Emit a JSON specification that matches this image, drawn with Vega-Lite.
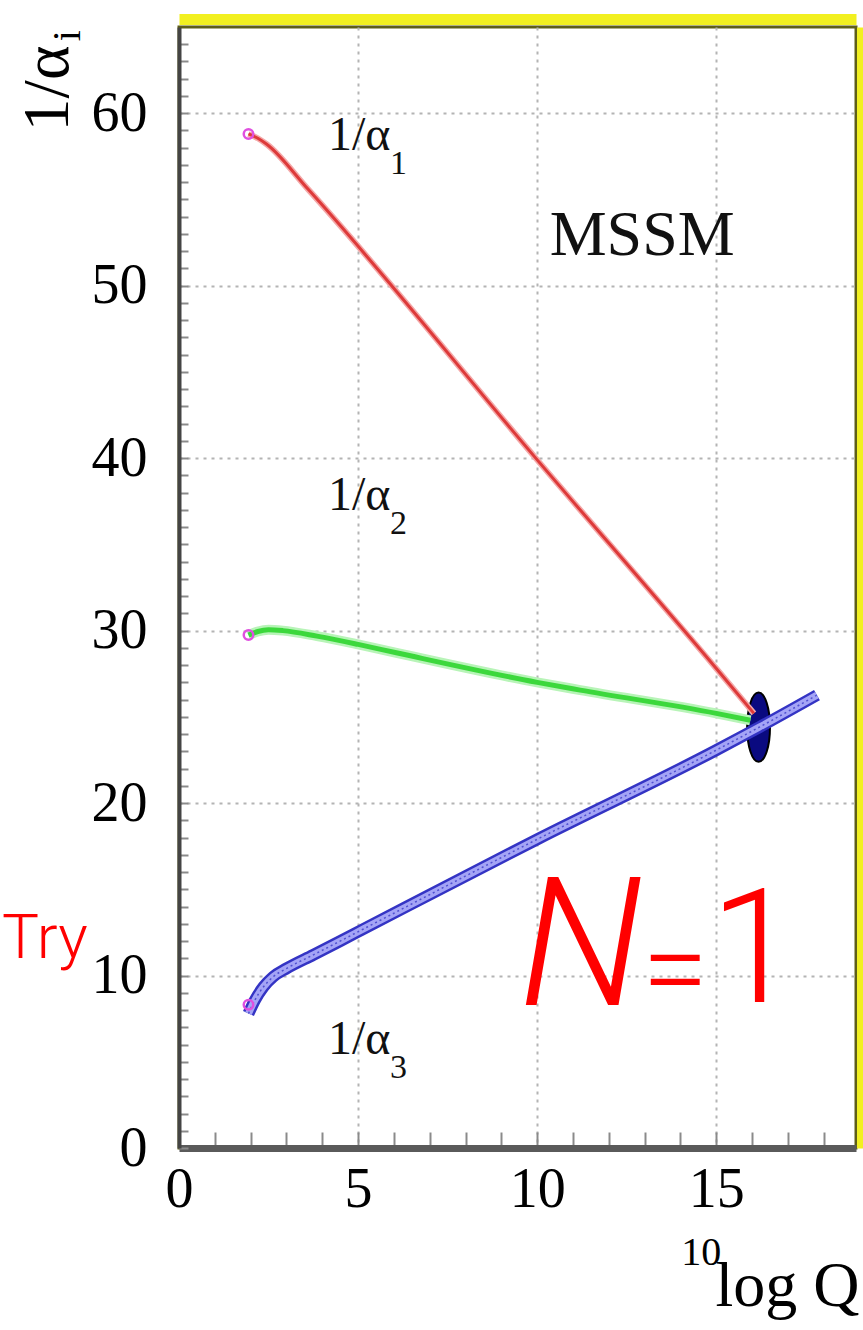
{
  "$schema": "https://vega.github.io/schema/vega-lite/v6.json",
  "width": 677,
  "height": 1121,
  "autosize": {"type": "none"},
  "padding": {"left": 179, "top": 27, "right": 7, "bottom": 182},
  "background": "white",
  "config": {
    "view": {"stroke": "#5e5e18", "strokeWidth": 3},
    "text": {"font": "Liberation Serif", "color": "#000000"}
  },
  "datasets": {
    "curves": [
      {"c": "a1", "x": 1.94, "y": 58.8},
      {"c": "a1", "x": 2.2, "y": 58.55},
      {"c": "a1", "x": 2.45, "y": 58.2},
      {"c": "a1", "x": 3.6, "y": 55.6},
      {"c": "a1", "x": 10, "y": 39.9},
      {"c": "a1", "x": 15, "y": 27.8},
      {"c": "a1", "x": 16.05, "y": 25.2},
      {"c": "a2", "x": 1.94, "y": 29.74},
      {"c": "a2", "x": 2.2, "y": 29.95},
      {"c": "a2", "x": 2.5, "y": 30.05},
      {"c": "a2", "x": 2.9, "y": 30.0},
      {"c": "a2", "x": 3.85, "y": 29.68},
      {"c": "a2", "x": 5, "y": 29.2},
      {"c": "a2", "x": 6.1, "y": 28.7},
      {"c": "a2", "x": 10, "y": 27.0},
      {"c": "a2", "x": 11.2, "y": 26.55},
      {"c": "a2", "x": 15, "y": 25.2},
      {"c": "a2", "x": 15.95, "y": 24.8},
      {"c": "a3", "x": 1.94, "y": 7.8},
      {"c": "a3", "x": 2.12, "y": 8.58},
      {"c": "a3", "x": 2.36, "y": 9.35},
      {"c": "a3", "x": 2.63, "y": 9.93},
      {"c": "a3", "x": 3.01, "y": 10.42},
      {"c": "a3", "x": 3.75, "y": 11.2},
      {"c": "a3", "x": 4.5, "y": 12.0},
      {"c": "a3", "x": 5.15, "y": 12.7},
      {"c": "a3", "x": 10, "y": 17.9},
      {"c": "a3", "x": 15, "y": 23.07},
      {"c": "a3", "x": 16.2, "y": 24.4},
      {"c": "a3", "x": 17.81, "y": 26.26}
    ],
    "starts": [
      {"x": 1.94, "y": 58.8},
      {"x": 1.94, "y": 29.75},
      {"x": 1.94, "y": 8.3}
    ],
    "unify": [{"x": 16.18, "y": 24.4}],
    "labels": [
      {"t": "1/α", "sub": "1", "x": 4.16, "y": 57.85},
      {"t": "1/α", "sub": "2", "x": 4.16, "y": 37.0},
      {"t": "1/α", "sub": "3", "x": 4.16, "y": 5.45}
    ],
    "model": [{"t": "MSSM", "x": 12.93, "y": 51.8}],
    "supers": [{"t": "10", "x": 15.14, "y": -6.78}],
    "ysub": [{"t": "i", "x": -2.77, "y": 64.5}],
    "notes": [
      {"part": "try", "t": "Try", "x": -4.94, "y": 11.0},
      {"part": "n", "t": "N", "x": 11.23, "y": 8.3},
      {"part": "eq", "t": "=", "x": 13.85, "y": 8.0},
      {"part": "one", "t": "1", "x": 16.06, "y": 8.46}
    ]
  },
  "resolve": {"axis": {"x": "independent", "y": "independent"}},
  "layer": [
    {
      "data": {"name": "unify"},
      "mark": {
        "type": "point",
        "shape": "M -0.33 0 A 0.33 1 0 1 1 0.33 0 A 0.33 1 0 1 1 -0.33 0 Z",
        "size": 4800,
        "filled": true,
        "fill": "#0a0a80",
        "stroke": "#000000",
        "strokeWidth": 2,
        "opacity": 1
      },
      "encoding": {
        "x": {"field": "x", "type": "quantitative", "scale": {"domain": [0, 18.9], "nice": false, "zero": false},
          "axis": {"orient": "top", "title": null, "labels": false, "ticks": false, "grid": false, "domainColor": "#f2f020", "domainWidth": 11, "offset": 8}},
        "y": {"field": "y", "type": "quantitative", "scale": {"domain": [0, 65], "nice": false, "zero": false},
          "axis": {"orient": "right", "title": null, "labels": false, "ticks": false, "grid": false, "domainColor": "#f2f020", "domainWidth": 7, "offset": 4}}
      }
    },
    {
      "data": {"name": "curves"},
      "transform": [{"filter": "datum.c === 'a1'"}],
      "mark": {"type": "line", "interpolate": "monotone", "color": "#f4a8a8", "strokeWidth": 6},
      "encoding": {
        "x": {"field": "x", "type": "quantitative", "scale": {"domain": [0, 18.9], "nice": false, "zero": false}, "axis": null},
        "y": {"field": "y", "type": "quantitative", "scale": {"domain": [0, 65], "nice": false, "zero": false}, "axis": null}
      }
    },
    {
      "data": {"name": "curves"},
      "transform": [{"filter": "datum.c === 'a1'"}],
      "mark": {"type": "line", "interpolate": "monotone", "color": "#dd3a3a", "strokeWidth": 3},
      "encoding": {
        "x": {"field": "x", "type": "quantitative", "scale": {"domain": [0, 18.9], "nice": false, "zero": false},
          "axis": {
            "orient": "bottom",
            "values": [0,1,2,3,4,5,6,7,8,9,10,11,12,13,14,15,16,17,18],
            "title": "log Q",
            "labelExpr": "datum.value % 5 === 0 ? datum.label : ''",
            "labelFont": "Liberation Serif", "labelFontSize": 56, "labelColor": "#000000",
            "labelPadding": 30, "labelFlush": false, "labelOverlap": false, "labelBound": false,
            "tickSize": -16, "tickColor": "#8a8a8a", "tickWidth": 2,
            "domainColor": "#5a5a5a", "domainWidth": 7,
            "grid": true, "gridColor": "#b4b4b4", "gridDash": [3, 5], "gridWidth": 2,
            "gridOpacity": {"condition": {"test": "datum.value % 5 === 0 && datum.value > 0", "value": 1}, "value": 0},
            "titleFont": "Liberation Serif", "titleFontSize": 64, "titleFontWeight": "normal", "titleColor": "#000000",
            "titleAnchor": "end", "titleAlign": "right", "titleBaseline": "alphabetic", "titleX": 680, "titleY": 157
          }},
        "y": {"field": "y", "type": "quantitative", "scale": {"domain": [0, 65], "nice": false, "zero": false},
          "axis": {
            "orient": "left",
            "values": [0,1,2,3,4,5,6,7,8,9,10,11,12,13,14,15,16,17,18,19,20,21,22,23,24,25,26,27,28,29,30,31,32,33,34,35,36,37,38,39,40,41,42,43,44,45,46,47,48,49,50,51,52,53,54,55,56,57,58,59,60,61,62,63,64],
            "title": "1/α",
            "labelExpr": "datum.value % 10 === 0 ? datum.label : ''",
            "labelFont": "Liberation Serif", "labelFontSize": 56, "labelColor": "#000000",
            "labelPadding": 41, "labelFlush": false, "labelOverlap": false, "labelBound": false,
            "tickSize": -9, "tickColor": "#8a8a8a", "tickWidth": 2,
            "domainColor": "#444444", "domainWidth": 4,
            "grid": true, "gridColor": "#b4b4b4", "gridDash": [3, 5], "gridWidth": 2,
            "gridOpacity": {"condition": {"test": "datum.value % 10 === 0 && datum.value > 0", "value": 1}, "value": 0},
            "titleFont": "Liberation Serif", "titleFontSize": 66, "titleFontWeight": "normal", "titleColor": "#000000",
            "titleAngle": 270, "titleAlign": "right", "titleBaseline": "alphabetic", "titleX": -112, "titleY": 18
          }}
      }
    },
    {
      "data": {"name": "curves"},
      "transform": [{"filter": "datum.c === 'a2'"}],
      "mark": {"type": "line", "interpolate": "monotone", "color": "#b8f4b8", "strokeWidth": 10},
      "encoding": {
        "x": {"field": "x", "type": "quantitative", "scale": {"domain": [0, 18.9], "nice": false, "zero": false}, "axis": null},
        "y": {"field": "y", "type": "quantitative", "scale": {"domain": [0, 65], "nice": false, "zero": false}, "axis": null}
      }
    },
    {
      "data": {"name": "curves"},
      "transform": [{"filter": "datum.c === 'a2'"}],
      "mark": {"type": "line", "interpolate": "monotone", "color": "#3cd83c", "strokeWidth": 5},
      "encoding": {
        "x": {"field": "x", "type": "quantitative", "scale": {"domain": [0, 18.9], "nice": false, "zero": false}, "axis": null},
        "y": {"field": "y", "type": "quantitative", "scale": {"domain": [0, 65], "nice": false, "zero": false}, "axis": null}
      }
    },
    {
      "data": {"name": "curves"},
      "transform": [{"filter": "datum.c === 'a3'"}],
      "mark": {"type": "line", "interpolate": "monotone", "color": "#3434c4", "strokeWidth": 12},
      "encoding": {
        "x": {"field": "x", "type": "quantitative", "scale": {"domain": [0, 18.9], "nice": false, "zero": false}, "axis": null},
        "y": {"field": "y", "type": "quantitative", "scale": {"domain": [0, 65], "nice": false, "zero": false}, "axis": null}
      }
    },
    {
      "data": {"name": "curves"},
      "transform": [{"filter": "datum.c === 'a3'"}],
      "mark": {"type": "line", "interpolate": "monotone", "color": "#a4a4f6", "strokeWidth": 7},
      "encoding": {
        "x": {"field": "x", "type": "quantitative", "scale": {"domain": [0, 18.9], "nice": false, "zero": false}, "axis": null},
        "y": {"field": "y", "type": "quantitative", "scale": {"domain": [0, 65], "nice": false, "zero": false}, "axis": null}
      }
    },
    {
      "data": {"name": "curves"},
      "transform": [{"filter": "datum.c === 'a3'"}],
      "mark": {"type": "line", "interpolate": "monotone", "color": "#5050d0", "strokeWidth": 1.5, "strokeDash": [2, 3]},
      "encoding": {
        "x": {"field": "x", "type": "quantitative", "scale": {"domain": [0, 18.9], "nice": false, "zero": false}, "axis": null},
        "y": {"field": "y", "type": "quantitative", "scale": {"domain": [0, 65], "nice": false, "zero": false}, "axis": null}
      }
    },
    {
      "data": {"name": "starts"},
      "mark": {"type": "point", "shape": "circle", "filled": false, "stroke": "#e050e0", "strokeWidth": 2.5, "size": 90, "opacity": 1},
      "encoding": {
        "x": {"field": "x", "type": "quantitative", "scale": {"domain": [0, 18.9], "nice": false, "zero": false}, "axis": null},
        "y": {"field": "y", "type": "quantitative", "scale": {"domain": [0, 65], "nice": false, "zero": false}, "axis": null}
      }
    },
    {
      "data": {"name": "labels"},
      "mark": {"type": "text", "align": "left", "baseline": "alphabetic", "font": "Liberation Serif", "fontSize": 48, "color": "#111111"},
      "encoding": {
        "x": {"field": "x", "type": "quantitative", "scale": {"domain": [0, 18.9], "nice": false, "zero": false}, "axis": null},
        "y": {"field": "y", "type": "quantitative", "scale": {"domain": [0, 65], "nice": false, "zero": false}, "axis": null},
        "text": {"field": "t"}
      }
    },
    {
      "data": {"name": "labels"},
      "mark": {"type": "text", "align": "left", "baseline": "alphabetic", "font": "Liberation Serif", "fontSize": 34, "color": "#111111", "dx": 62, "dy": 24},
      "encoding": {
        "x": {"field": "x", "type": "quantitative", "scale": {"domain": [0, 18.9], "nice": false, "zero": false}, "axis": null},
        "y": {"field": "y", "type": "quantitative", "scale": {"domain": [0, 65], "nice": false, "zero": false}, "axis": null},
        "text": {"field": "sub"}
      }
    },
    {
      "data": {"name": "model"},
      "mark": {"type": "text", "align": "center", "baseline": "alphabetic", "font": "Liberation Serif", "fontSize": 64, "color": "#111111"},
      "encoding": {
        "x": {"field": "x", "type": "quantitative", "scale": {"domain": [0, 18.9], "nice": false, "zero": false}, "axis": null},
        "y": {"field": "y", "type": "quantitative", "scale": {"domain": [0, 65], "nice": false, "zero": false}, "axis": null},
        "text": {"field": "t"}
      }
    },
    {
      "data": {"name": "supers"},
      "mark": {"type": "text", "align": "right", "baseline": "alphabetic", "font": "Liberation Serif", "fontSize": 40, "color": "#000000"},
      "encoding": {
        "x": {"field": "x", "type": "quantitative", "scale": {"domain": [0, 18.9], "nice": false, "zero": false}, "axis": null},
        "y": {"field": "y", "type": "quantitative", "scale": {"domain": [0, 65], "nice": false, "zero": false}, "axis": null},
        "text": {"field": "t"}
      }
    },
    {
      "data": {"name": "ysub"},
      "mark": {"type": "text", "align": "center", "baseline": "alphabetic", "angle": 270, "font": "Liberation Serif", "fontSize": 40, "color": "#000000"},
      "encoding": {
        "x": {"field": "x", "type": "quantitative", "scale": {"domain": [0, 18.9], "nice": false, "zero": false}, "axis": null},
        "y": {"field": "y", "type": "quantitative", "scale": {"domain": [0, 65], "nice": false, "zero": false}, "axis": null},
        "text": {"field": "t"}
      }
    },
    {
      "data": {"name": "notes"},
      "transform": [{"filter": "datum.part === 'try'"}],
      "mark": {"type": "text", "align": "left", "baseline": "alphabetic", "font": "Roboto", "fontWeight": 300, "fontSize": 62, "color": "#ff0000"},
      "encoding": {
        "x": {"field": "x", "type": "quantitative", "scale": {"domain": [0, 18.9], "nice": false, "zero": false}, "axis": null},
        "y": {"field": "y", "type": "quantitative", "scale": {"domain": [0, 65], "nice": false, "zero": false}, "axis": null},
        "text": {"field": "t"}
      }
    },
    {
      "data": {"name": "notes"},
      "transform": [{"filter": "datum.part === 'n'"}],
      "mark": {"type": "text", "align": "center", "baseline": "alphabetic", "font": "Roboto", "fontWeight": 300, "fontStyle": "italic", "fontSize": 180, "color": "#ff0000"},
      "encoding": {
        "x": {"field": "x", "type": "quantitative", "scale": {"domain": [0, 18.9], "nice": false, "zero": false}, "axis": null},
        "y": {"field": "y", "type": "quantitative", "scale": {"domain": [0, 65], "nice": false, "zero": false}, "axis": null},
        "text": {"field": "t"}
      }
    },
    {
      "data": {"name": "notes"},
      "transform": [{"filter": "datum.part === 'eq'"}],
      "mark": {"type": "text", "align": "center", "baseline": "alphabetic", "font": "Roboto", "fontWeight": 300, "fontSize": 120, "color": "#ff0000"},
      "encoding": {
        "x": {"field": "x", "type": "quantitative", "scale": {"domain": [0, 18.9], "nice": false, "zero": false}, "axis": null},
        "y": {"field": "y", "type": "quantitative", "scale": {"domain": [0, 65], "nice": false, "zero": false}, "axis": null},
        "text": {"field": "t"}
      }
    },
    {
      "data": {"name": "notes"},
      "transform": [{"filter": "datum.part === 'one'"}],
      "mark": {"type": "text", "align": "center", "baseline": "alphabetic", "font": "Roboto", "fontWeight": 300, "fontSize": 160, "color": "#ff0000"},
      "encoding": {
        "x": {"field": "x", "type": "quantitative", "scale": {"domain": [0, 18.9], "nice": false, "zero": false}, "axis": null},
        "y": {"field": "y", "type": "quantitative", "scale": {"domain": [0, 65], "nice": false, "zero": false}, "axis": null},
        "text": {"field": "t"}
      }
    }
  ]
}
